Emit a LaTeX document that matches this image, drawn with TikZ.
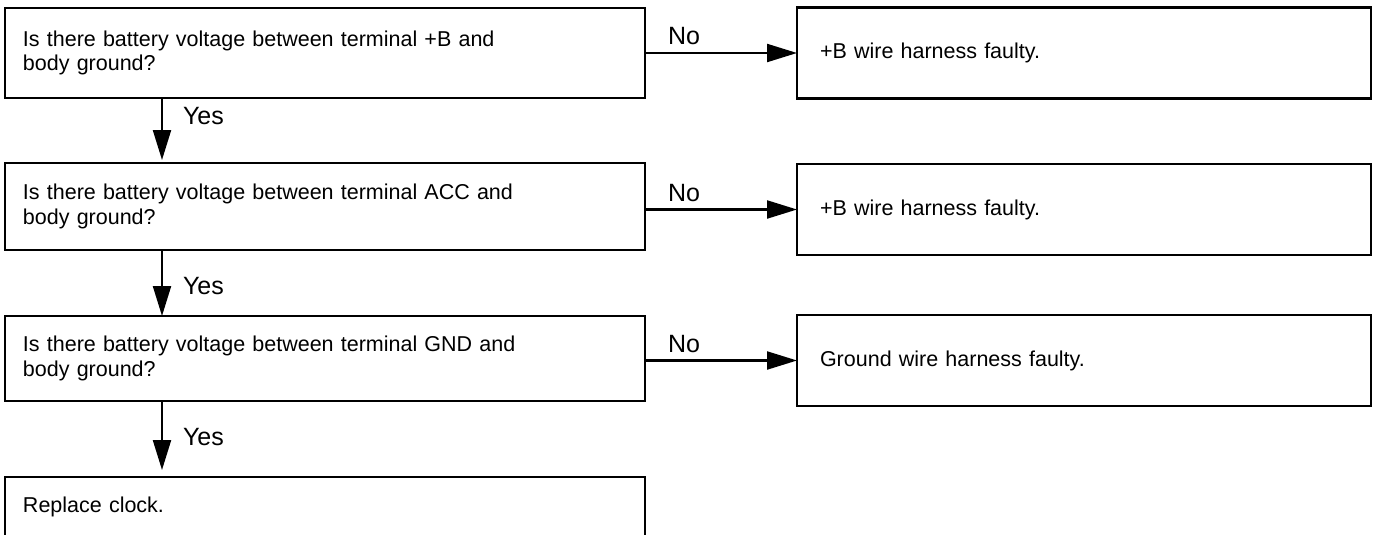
\documentclass[tikz,border=0pt]{standalone}
\usepackage{fontspec}
\setmainfont{Liberation Sans}
\usetikzlibrary{positioning}
\usetikzlibrary{arrows.meta}

\begin{document}
\begin{tikzpicture}
          [x=1pt, y=1pt,
           every node/.style={draw, rectangle, line width=2.8pt, inner sep=0pt, outer sep=0pt,
                              font=\fontsize{21.5}{24.5}\selectfont},
           qbox/.style={minimum width=640pt, inner xsep=18pt, text width=604pt, align=left},
           abox/.style={minimum width=574pt, minimum height=91pt, inner xsep=23pt, text width=528pt, align=left},
           lbl/.style={draw=none, font=\fontsize{25}{25}\selectfont},
           flow/.style={line width=2.2pt, -{Triangle[length=30pt, width=18pt]}}]
          \path[use as bounding box, fill=white] (0,0) rectangle (1375,-535);

          \node (q1) [qbox, minimum height=90pt, anchor=north west] at (5,-8)
                {Is there battery voltage between terminal +B and\\body ground?};
          \node (q2) [qbox, minimum height=87pt, below = 65pt of q1]
                {Is there battery voltage between terminal ACC and\\body ground?};
          \node (q3) [qbox, minimum height=85pt, below = 66pt of q2]
                {Is there battery voltage between terminal GND and\\body ground?};
          \node (q4) [qbox, minimum height=60pt, below = 76pt of q3] {Replace clock.};

          \node (a1) [abox, right = 152pt of q1] {+B wire harness faulty.};
          \node (a2) [abox, right = 152pt of q2, yshift=-3pt] {+B wire harness faulty.};
          \node (a3) [abox, right = 152pt of q3, yshift=-2pt] {Ground wire harness faulty.};



          \draw[flow] (q1.east |- a1.west) -- (a1.west)
                node[lbl, pos=0, anchor=base west, xshift=23pt, yshift=8pt] {No};
          \draw[flow] (q2.east |- a2.west) -- (a2.west)
                node[lbl, pos=0, anchor=base west, xshift=23pt, yshift=8pt] {No};
          \draw[flow] (q3.east |- a3.west) -- (a3.west)
                node[lbl, pos=0, anchor=base west, xshift=23pt, yshift=8pt] {No};

          
          \draw[flow, shorten >= 3pt] ([xshift=157pt]q1.south west) -- ([xshift=157pt]q2.north west)
                node[lbl, midway, anchor=west, xshift=21pt, yshift=14pt] {Yes};
          \draw[flow] ([xshift=157pt]q2.south west) -- ([xshift=157pt]q3.north west)
                node[lbl, midway, anchor=west, xshift=21pt, yshift=-3pt] {Yes};
          \draw[flow, shorten >= 7pt] ([xshift=157pt]q3.south west) -- ([xshift=157pt]q4.north west)
                node[lbl, midway, anchor=west, xshift=21pt, yshift=2pt] {Yes};

        \end{tikzpicture}
\end{document}
